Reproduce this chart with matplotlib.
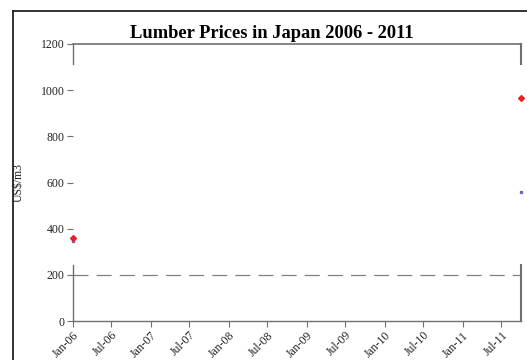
import matplotlib
matplotlib.use("Agg")
import matplotlib.pyplot as plt
import numpy as np
from matplotlib.lines import Line2D

# Data
dates = np.array(["2006-01-01", "2011-10-01"], dtype="datetime64[D]")
series_red = [360, 965]
series_blue = [345, 560]
reference_level = 200
tick_dates = np.array(["2006-01-01", "2006-07-01", "2007-01-01", "2007-07-01", "2008-01-01",
                       "2008-07-01", "2009-01-01", "2009-07-01", "2010-01-01", "2010-07-01",
                       "2011-01-01", "2011-07-01"], dtype="datetime64[D]")
tick_labels = ["Jan-06", "Jul-06", "Jan-07", "Jul-07", "Jan-08", "Jul-08", "Jan-09",
               "Jul-09", "Jan-10", "Jul-10", "Jan-11", "Jul-11"]
y_ticks = [0, 200, 400, 600, 800, 1000, 1200]

plt.rcParams['font.family'] = ['Liberation Serif', 'DejaVu Serif']

W, H = 527, 360
fig = plt.figure(figsize=(W / 100, H / 100), dpi=100)
ax = fig.add_axes([72.7 / W, 1 - 321 / H, (521 - 72.7) / W, (321 - 44) / H])

ax.plot(dates, series_blue, linestyle='none', marker='s', markersize=1.8, color='#6a6ab0', clip_on=False)
ax.plot(dates, series_red, linestyle='none', marker='D', markersize=3.0, color='#e8202a', clip_on=False)
ax.axhline(reference_level, color='#808080', linewidth=0.9, dashes=(12, 6.5))

ax.set_ylim(0, 1200)
ax.set_xlim(np.datetime64("2006-01-01"), np.datetime64("2011-10-01"))
ax.set_yticks(y_ticks)
ax.set_yticklabels([str(v) for v in y_ticks], fontsize=8.5, color='#222222')
ax.set_xticks(tick_dates)
ax.set_xticklabels(tick_labels, fontsize=8.5, color='#222222', rotation=45, ha='right',
                   rotation_mode='anchor')
ax.tick_params(axis='both', direction='out', length=4, width=0.8, color='#707070', pad=2)

for s in ['left', 'right', 'top', 'bottom']:
    ax.spines[s].set_color('#707070')
    ax.spines[s].set_linewidth(1.0)
ax.spines['left'].set_bounds(0, 243)
ax.spines['right'].set_bounds(0, 243)
ax.spines['right'].set_linewidth(1.5)
xl = ax.get_xlim()
ax.axvline(xl[0], ymin=1115 / 1200, ymax=1.0, color='#707070', linewidth=1.0, clip_on=False)
ax.axvline(xl[1], ymin=1115 / 1200, ymax=1.0, color='#707070', linewidth=1.5, clip_on=False)
ax.spines['top'].set_linewidth(1.2)

ax.set_ylabel("US$/m3", fontsize=8.5, color='#222222')
ax.yaxis.set_label_coords(-0.108, 0.5)

fig.text(272 / W, 1 - 33 / H, "Lumber Prices in Japan 2006 - 2011", ha='center', va='center',
         fontsize=13.3, fontweight='bold')

# Outer chart frame
fig.add_artist(Line2D([13 / W, 13 / W], [0, 1 - 11 / H], transform=fig.transFigure,
                      color='#222222', linewidth=1.3))
fig.add_artist(Line2D([13 / W, 1], [1 - 11 / H, 1 - 11 / H], transform=fig.transFigure,
                      color='#222222', linewidth=1.3))

fig.savefig("out.png", dpi=100)
